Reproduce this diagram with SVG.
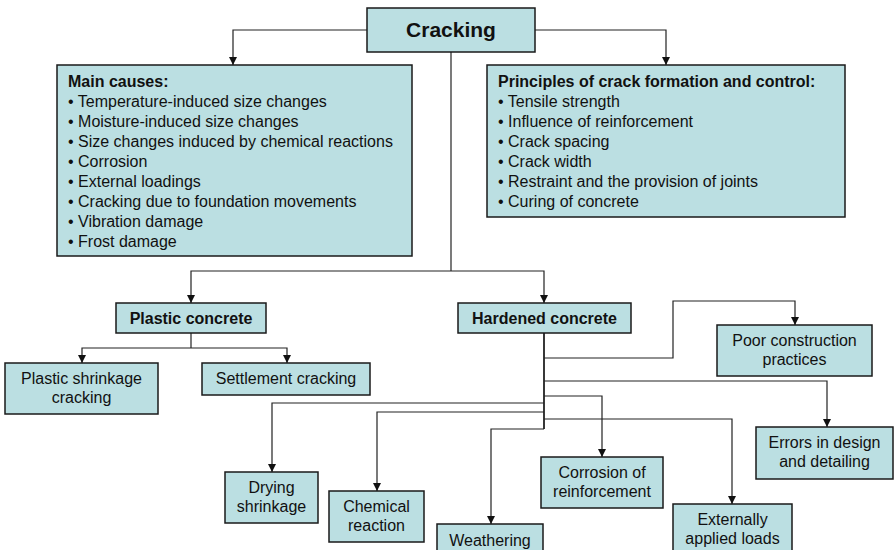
<svg xmlns="http://www.w3.org/2000/svg" width="894" height="550" viewBox="0 0 894 550">
  <style>
    .box { fill: #BBDFE2; stroke: #1a1a1a; stroke-width: 1.5; }
    .t { font-family: "Liberation Sans", Arial, sans-serif; font-size: 16px; fill: #111; }
    .c { text-anchor: middle; }
    .b { font-weight: bold; }
    .title { font-size: 21px; }
    .wire { fill: none; stroke: #222; stroke-width: 1.2; marker-end: url(#arrow); }
    .plain { fill: none; stroke: #222; stroke-width: 1.2; }
  </style>
  <defs>
    <marker id="arrow" markerUnits="userSpaceOnUse" markerWidth="10" markerHeight="10" refX="8" refY="4" orient="auto">
      <path d="M0,0 L8,4 L0,8 z" fill="#111"/>
    </marker>
  </defs>
  <rect width="894" height="550" fill="#ffffff"/>

  <!-- connectors -->
  <g id="connectors">
    <path class="wire" d="M367,30 H233 V65"/>
    <path class="wire" d="M535,30 H666 V65"/>
    <path class="plain" d="M451,52 V271"/>
    <path class="wire" d="M451,271 H191 V303"/>
    <path class="wire" d="M451,271 H544 V303"/>
    <path class="plain" d="M191,333 V348"/>
    <path class="wire" d="M191,348 H82 V363"/>
    <path class="wire" d="M191,348 H287 V363"/>
    <path class="plain" d="M544,333 V429" style="stroke-width:1.8"/>
    <path class="wire" d="M544,358 H673 V301 H795 V325"/>
    <path class="wire" d="M544,381 H827 V427"/>
    <path class="wire" d="M544,396 H602 V457"/>
    <path class="wire" d="M544,403 H272 V472"/>
    <path class="wire" d="M544,412 H377 V491"/>
    <path class="wire" d="M544,419 H732 V504"/>
    <path class="wire" d="M544,429 H491 V524"/>
  </g>

  <g id="cracking">
    <rect class="box" x="367" y="8" width="168" height="44"/>
    <text class="t c b title" x="451" y="37">Cracking</text>
  </g>

  <g id="main-causes">
    <rect class="box" x="57" y="65" width="355" height="191"/>
    <text class="t b" x="68" y="87">Main causes:</text>
    <text class="t" x="68" y="107">• Temperature-induced size changes</text>
    <text class="t" x="68" y="127">• Moisture-induced size changes</text>
    <text class="t" x="68" y="147">• Size changes induced by chemical reactions</text>
    <text class="t" x="68" y="167">• Corrosion</text>
    <text class="t" x="68" y="187">• External loadings</text>
    <text class="t" x="68" y="207">• Cracking due to foundation movements</text>
    <text class="t" x="68" y="227">• Vibration damage</text>
    <text class="t" x="68" y="247">• Frost damage</text>
  </g>

  <g id="principles">
    <rect class="box" x="487" y="65" width="358" height="152"/>
    <text class="t b" x="498" y="87">Principles of crack formation and control:</text>
    <text class="t" x="498" y="107">• Tensile strength</text>
    <text class="t" x="498" y="127">• Influence of reinforcement</text>
    <text class="t" x="498" y="147">• Crack spacing</text>
    <text class="t" x="498" y="167">• Crack width</text>
    <text class="t" x="498" y="187">• Restraint and the provision of joints</text>
    <text class="t" x="498" y="207">• Curing of concrete</text>
  </g>

  <g id="plastic-concrete">
    <rect class="box" x="116" y="303" width="150" height="30"/>
    <text class="t c b" x="191" y="324">Plastic concrete</text>
  </g>

  <g id="hardened-concrete">
    <rect class="box" x="458" y="303" width="173" height="30"/>
    <text class="t c b" x="544.5" y="324">Hardened concrete</text>
  </g>

  <g id="plastic-shrinkage">
    <rect class="box" x="5" y="363" width="153" height="51"/>
    <text class="t c" x="81.5" y="384">Plastic shrinkage</text>
    <text class="t c" x="81.5" y="403">cracking</text>
  </g>

  <g id="settlement">
    <rect class="box" x="202" y="363" width="168" height="32"/>
    <text class="t c" x="286" y="384">Settlement cracking</text>
  </g>

  <g id="poor-construction">
    <rect class="box" x="717" y="325" width="155" height="51"/>
    <text class="t c" x="794.5" y="346">Poor construction</text>
    <text class="t c" x="794.5" y="365">practices</text>
  </g>

  <g id="errors">
    <rect class="box" x="756" y="427" width="137" height="52"/>
    <text class="t c" x="824.5" y="448">Errors in design</text>
    <text class="t c" x="824.5" y="467">and detailing</text>
  </g>

  <g id="corrosion">
    <rect class="box" x="541" y="457" width="122" height="51"/>
    <text class="t c" x="602" y="478">Corrosion of</text>
    <text class="t c" x="602" y="497">reinforcement</text>
  </g>

  <g id="external-loads">
    <rect class="box" x="673" y="504" width="119" height="56"/>
    <text class="t c" x="732.5" y="525">Externally</text>
    <text class="t c" x="732.5" y="544">applied loads</text>
  </g>

  <g id="drying-shrinkage">
    <rect class="box" x="225" y="472" width="93" height="51"/>
    <text class="t c" x="271.5" y="493">Drying</text>
    <text class="t c" x="271.5" y="512">shrinkage</text>
  </g>

  <g id="chemical-reaction">
    <rect class="box" x="329" y="491" width="95" height="51"/>
    <text class="t c" x="376.5" y="512">Chemical</text>
    <text class="t c" x="376.5" y="531">reaction</text>
  </g>

  <g id="weathering">
    <rect class="box" x="437" y="524" width="106" height="36"/>
    <text class="t c" x="490" y="546">Weathering</text>
  </g>
</svg>
